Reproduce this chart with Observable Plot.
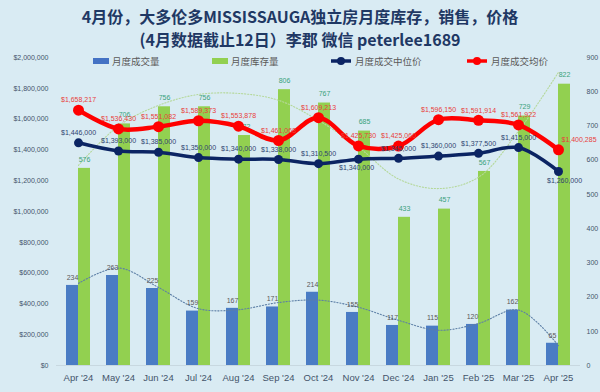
<!DOCTYPE html>
<html><head><meta charset="utf-8">
<script src="https://cdn.jsdelivr.net/npm/d3@7"></script>
<script src="https://cdn.jsdelivr.net/npm/@observablehq/plot@0.6"></script>
<style>
body{margin:0;background:#d9ebf3;}
#wrap{position:relative;width:600px;height:392px;background:#d9ebf3;overflow:hidden;font-family:"Noto Sans CJK SC","Liberation Sans",sans-serif;}
#title{position:absolute;top:5px;left:0;width:600px;text-align:center;color:#1f3864;font-weight:bold;font-size:16px;line-height:23px;}
#chart{position:absolute;top:52px;left:0;}
#legend{position:absolute;top:54px;left:0;width:600px;height:14px;font-size:9.5px;color:#595959;}
.li{position:absolute;top:0;display:flex;align-items:center;height:14px;}
.li svg{margin-right:3px;}
</style></head>
<body><div id="wrap">
<div id="title">4月份，大多伦多MISSISSAUGA独立房月度库存，销售，价格<br>(4月数据截止12日）李郡 微信 peterlee1689</div>
<div id="chart"></div>
<div id="legend"></div>
</div>
<script>
const months = ["Apr '24","May '24","Jun '24","Jul '24","Aug '24","Sep '24","Oct '24","Nov '24","Dec '24","Jan '25","Feb '25","Mar '25","Apr '25"];
const sales = [234,263,225,159,167,171,214,155,117,115,120,162,65];
const inventory = [576,706,756,756,672,806,767,685,433,457,567,729,822];
const medianPrice = [1446000,1393000,1385000,1350000,1340000,1338000,1310500,1340000,1345000,1360000,1377500,1415000,1260000];
const avgPrice = [1658217,1536430,1551082,1589373,1553878,1461068,1609213,1425730,1425060,1596150,1591914,1561922,1400285];
const salesTrend = [240,285,228,166,163,184,191,170,132,103,123,162,58];
const inventoryTrend = [585,700,760,792,795,775,716,638,545,517,550,685,857];
const leftTicks = [0,200000,400000,600000,800000,1000000,1200000,1400000,1600000,1800000,2000000];
const rightTicks = [0,100,200,300,400,500,600,700,800,900];
const legendItems = [
  {label:"月度成交量", kind:"rect", color:"#4472c4", x:93},
  {label:"月度库存量", kind:"rect", color:"#92d050", x:212},
  {label:"月度成交中位价", kind:"line", color:"#0b2463", x:330},
  {label:"月度成交均价", kind:"line", color:"#ff0000", x:466}
];
const medianBelow = ["Nov '24","Apr '25"];

const k = 2000000/900;
const fmt = d3.format(",");
const rows = months.map((m,i)=>({m, sales:sales[i], inv:inventory[i], med:medianPrice[i], avg:avgPrice[i], st:salesTrend[i], it:inventoryTrend[i]}));

const chart = Plot.plot({
  width:600, height:340, marginTop:5, marginBottom:27, marginLeft:56, marginRight:20,
  style:{background:"transparent", fontFamily:"Liberation Sans, sans-serif", color:"#44546a"},
  x:{domain:months, paddingInner:0.7, paddingOuter:0.35, label:null},
  y:{domain:[0,2000000], label:null},
  marks:[
    Plot.ruleY([0],{stroke:"#c8d8e0"}),
    Plot.axisY(leftTicks,{anchor:"left", tickSize:0, tickPadding:8, fontSize:7, fill:"#44546a", tickFormat:d=>"$"+fmt(d), label:null}),
    Plot.axisY(rightTicks.map(v=>v*k),{anchor:"right", tickSize:0, tickPadding:6, fontSize:7, fill:"#44546a", tickFormat:v=>String(Math.round(v/k)), label:null}),
    Plot.axisX({tickSize:0, tickPadding:9, fontSize:9.5, fill:"#44546a", label:null}),
    Plot.barY(rows,{x:"m", y:d=>d.sales*k, fill:"#4a7cc4", dx:-6}),
    Plot.barY(rows,{x:"m", y:d=>d.inv*k, fill:"#92d050", dx:6}),
    Plot.line(rows,{x:"m", y:d=>d.st*k, stroke:"#5d7fa6", strokeWidth:1.1, strokeDasharray:"1.2,1.8", curve:"catmull-rom"}),
    Plot.line(rows,{x:"m", y:d=>d.it*k, stroke:"#b5d89a", strokeWidth:1.1, strokeDasharray:"1.2,1.8", curve:"catmull-rom"}),
    Plot.text(rows,{x:"m", y:d=>d.sales*k, text:d=>String(d.sales), dx:-6, dy:-8, fill:"#595959", fontSize:7}),
    Plot.text(rows,{x:"m", y:d=>d.inv*k, text:d=>String(d.inv), dx:6, dy:-9, fill:"#3aa27c", fontSize:7}),
    Plot.line(rows,{x:"m", y:"med", stroke:"#0b2463", strokeWidth:3.5, curve:"catmull-rom"}),
    Plot.dot(rows,{x:"m", y:"med", r:4.5, fill:"#0b2463"}),
    Plot.line(rows,{x:"m", y:"avg", stroke:"#ff0000", strokeWidth:4.5, curve:"catmull-rom"}),
    Plot.dot(rows,{x:"m", y:"avg", r:5.5, fill:"#ff0000"}),
    Plot.text(rows,{filter:d=>!medianBelow.includes(d.m), x:"m", y:"med", text:d=>"$"+fmt(d.med), dy:-10, fill:"#2f4470", fontSize:7}),
    Plot.text(rows,{filter:d=>d.m==="Nov '24", x:"m", y:"med", text:d=>"$"+fmt(d.med), dy:9, dx:-2, fill:"#2f4470", fontSize:7}),
    Plot.text(rows,{filter:d=>d.m==="Apr '25", x:"m", y:"med", text:d=>"$"+fmt(d.med), dy:9, dx:6, fill:"#2f4470", fontSize:7}),
    Plot.text(rows,{filter:d=>d.m!=="Apr '25", x:"m", y:"avg", text:d=>"$"+fmt(d.avg), dy:-10, fill:"#e8413c", fontSize:7}),
    Plot.text(rows,{filter:d=>d.m==="Apr '25", x:"m", y:"avg", text:d=>"$"+fmt(d.avg), dx:3, dy:-10, textAnchor:"start", fill:"#e8413c", fontSize:7})
  ]
});
document.getElementById("chart").appendChild(chart);

const lg = document.getElementById("legend");
for (const it of legendItems) {
  const div = document.createElement("div");
  div.className = "li";
  div.style.left = it.x + "px";
  const sw = it.kind === "rect"
    ? `<svg width="16" height="8"><rect x="0" y="1" width="16" height="6" fill="${it.color}"/></svg>`
    : `<svg width="22" height="10"><line x1="1" y1="5" x2="21" y2="5" stroke="${it.color}" stroke-width="3.5"/><circle cx="11" cy="5" r="4" fill="${it.color}"/></svg>`;
  div.innerHTML = sw + `<span>${it.label}</span>`;
  lg.appendChild(div);
}
</script>
</body></html>
